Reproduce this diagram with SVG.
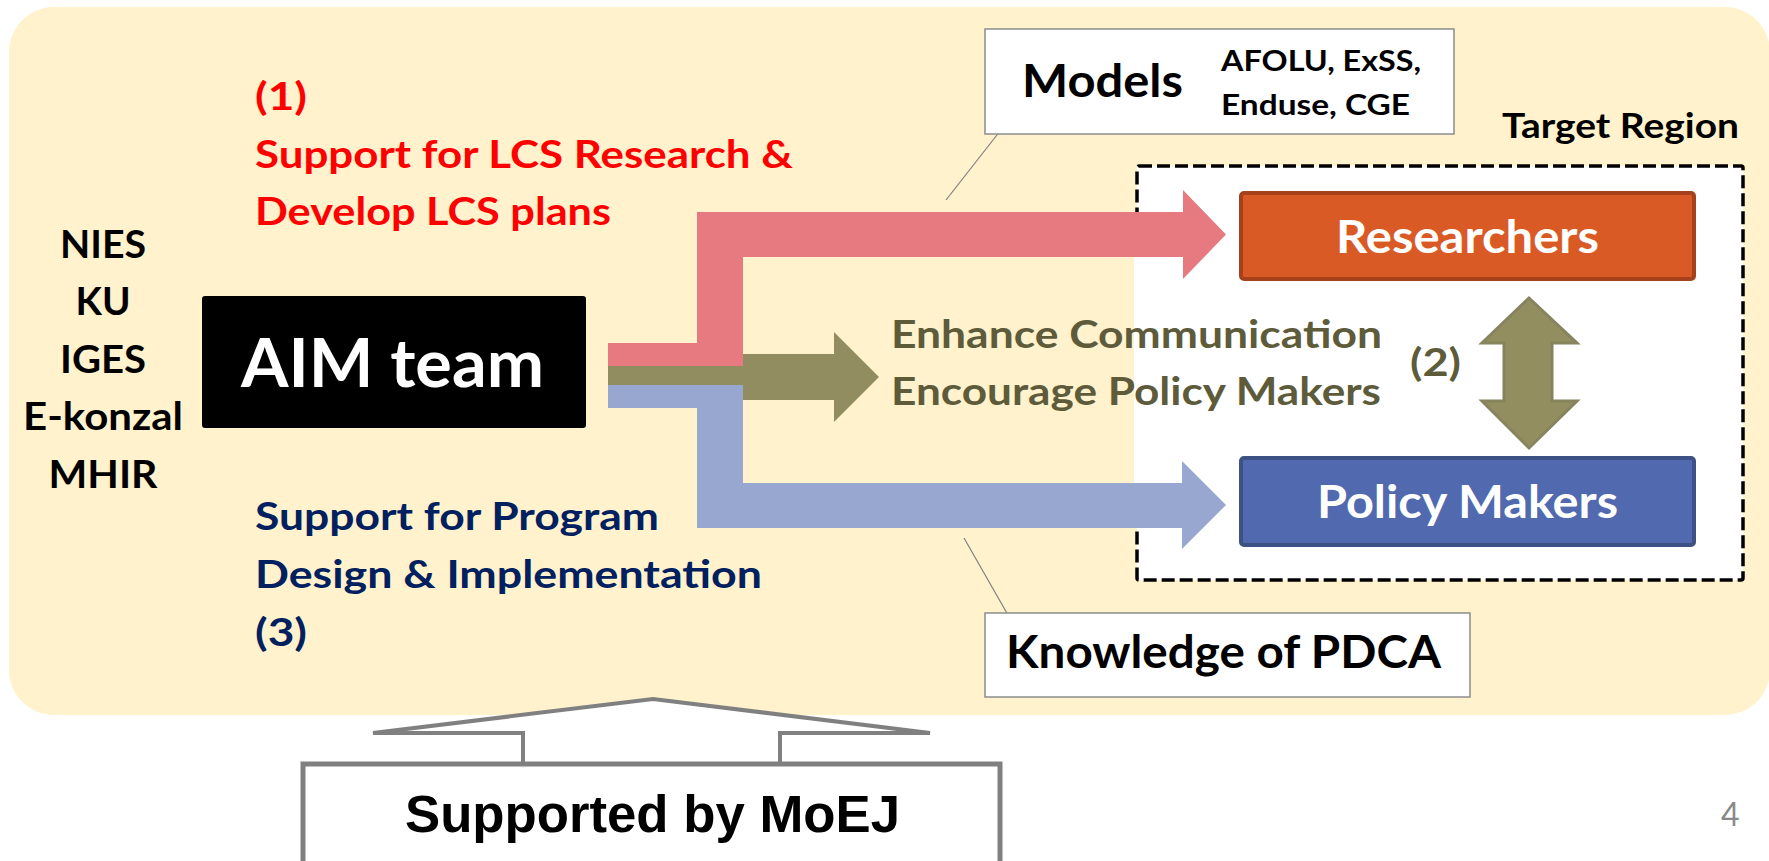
<svg xmlns="http://www.w3.org/2000/svg" width="1769" height="861" viewBox="0 0 1769 861">
<style>
.c{font-family:Lato,"Open Sans","Liberation Sans",sans-serif;font-weight:bold}
.red{fill:#FF0000;font-size:39px}
.navy{fill:#002060;font-size:39px}
.org{fill:#000;font-size:39px}
.ol{fill:#5E5B3B;font-size:39px}
.wt{fill:#FFFFFF;font-size:46px}
.box{fill:#FFFFFF;stroke:#8C8C8C;stroke-width:1.5}
.lead{stroke:#7F7F7F;stroke-width:1.2;fill:none}
</style>
<rect x="9" y="7" width="1761" height="708" rx="45" ry="45" fill="#FFF2CC"/>

<g id="target-region">
<rect x="1137" y="166" width="606" height="414" rx="2" fill="#FFFFFF" stroke="#000" stroke-width="3.5" stroke-dasharray="13 5"/>
<rect x="1134" y="215" width="60" height="310" fill="#FFFFFF"/>
<text class="c" x="1502" y="138" font-size="35" fill="#000" textLength="237" lengthAdjust="spacingAndGlyphs">Target Region</text>
</g>

<g id="connectors">
<path d="M608,343 L697,343 L697,212 L1183,212 L1183,190 L1226,234.5 L1183,279 L1183,257 L743,257 L743,366 L608,366 Z" fill="#E77A80"/>
<path d="M608,385 L743,385 L743,483 L1182,483 L1182,461 L1226,505 L1182,549 L1182,528 L697,528 L697,408 L608,408 Z" fill="#97A7D0"/>
<path d="M608,366 L743,366 L743,354 L834,354 L834,332 L879,377 L834,422 L834,400 L743,400 L743,385 L608,385 Z" fill="#928D60"/>
<path d="M1529,298 L1577,343 L1552,343 L1552,401 L1577,401 L1529,448 L1482,401 L1504,401 L1504,343 L1482,343 Z" fill="#938E60" stroke="#86845F" stroke-width="3" stroke-linejoin="miter"/>
<line class="lead" x1="1015" y1="112" x2="946" y2="200"/>
<line class="lead" x1="964" y1="538" x2="1016" y2="629"/>
<path d="M523,764 L523,733 L373,733 L653,699 L930,733 L780,733 L780,764" fill="#FFFFFF" stroke="#808080" stroke-width="4" stroke-linejoin="miter"/>
</g>

<g id="aim-team">
<rect x="202" y="296" width="384" height="132" rx="3" fill="#000"/>
<text class="c" x="241" y="387" font-size="66" fill="#FFF" textLength="303" lengthAdjust="spacingAndGlyphs">AIM team</text>
</g>

<g id="orgs">
<text class="c org" x="103" y="258" text-anchor="middle" textLength="86" lengthAdjust="spacingAndGlyphs">NIES</text>
<text class="c org" x="103" y="315" text-anchor="middle" textLength="55" lengthAdjust="spacingAndGlyphs">KU</text>
<text class="c org" x="103" y="373" text-anchor="middle" textLength="86" lengthAdjust="spacingAndGlyphs">IGES</text>
<text class="c org" x="103" y="430" text-anchor="middle" textLength="160" lengthAdjust="spacingAndGlyphs">E-konzal</text>
<text class="c org" x="103" y="488" text-anchor="middle" textLength="109" lengthAdjust="spacingAndGlyphs">MHIR</text>
</g>

<g id="label-1">
<text class="c red" x="255" y="110" textLength="52" lengthAdjust="spacingAndGlyphs">(1)</text>
<text class="c red" x="255" y="168" textLength="538" lengthAdjust="spacingAndGlyphs">Support for LCS Research &amp;</text>
<text class="c red" x="255" y="225" textLength="356" lengthAdjust="spacingAndGlyphs">Develop LCS plans</text>
</g>

<g id="label-3">
<text class="c navy" x="255" y="530" textLength="404" lengthAdjust="spacingAndGlyphs">Support for Program</text>
<text class="c navy" x="255" y="588" textLength="507" lengthAdjust="spacingAndGlyphs">Design &amp; Implementation</text>
<text class="c navy" x="255" y="646" textLength="52" lengthAdjust="spacingAndGlyphs">(3)</text>
</g>

<g id="label-2">
<text class="c ol" x="891" y="348" textLength="491" lengthAdjust="spacingAndGlyphs">Enhance Communication</text>
<text class="c ol" x="891" y="405" textLength="490" lengthAdjust="spacingAndGlyphs">Encourage Policy Makers</text>
<text class="c ol" x="1410" y="376" textLength="51" lengthAdjust="spacingAndGlyphs">(2)</text>
</g>

<g id="models">
<rect class="box" x="985" y="29" width="469" height="105"/>
<text class="c" x="1022" y="97" font-size="45" fill="#000" textLength="161" lengthAdjust="spacingAndGlyphs">Models</text>
<text class="c" x="1221" y="71" font-size="29" fill="#000" textLength="200" lengthAdjust="spacingAndGlyphs">AFOLU, ExSS,</text>
<text class="c" x="1221" y="115" font-size="29" fill="#000" textLength="189" lengthAdjust="spacingAndGlyphs">Enduse, CGE</text>
</g>

<g id="researchers">
<rect x="1241" y="193" width="453" height="86" rx="3" fill="#DA5A26" stroke="#A5411B" stroke-width="4"/>
<text class="c wt" x="1336" y="253" textLength="263" lengthAdjust="spacingAndGlyphs">Researchers</text>
</g>

<g id="policy-makers">
<rect x="1241" y="458" width="453" height="87" rx="3" fill="#5069AF" stroke="#3D5184" stroke-width="4"/>
<text class="c wt" x="1317" y="518" textLength="301" lengthAdjust="spacingAndGlyphs">Policy Makers</text>
</g>

<g id="knowledge">
<rect class="box" x="985" y="613" width="485" height="84"/>
<text class="c" x="1006" y="668" font-size="46" fill="#000" textLength="435" lengthAdjust="spacingAndGlyphs">Knowledge of PDCA</text>
</g>

<g id="moej">
<rect x="303" y="764" width="697" height="120" fill="#FFFFFF" stroke="#808080" stroke-width="5"/>
<text x="405" y="832" font-family="'Liberation Sans',Arial,sans-serif" font-weight="bold" font-size="51" fill="#000" textLength="495" lengthAdjust="spacingAndGlyphs">Supported by MoEJ</text>
</g>

<text x="1721" y="826" font-family="Lato,'Open Sans',sans-serif" font-size="32" fill="#898989">4</text>
</svg>
